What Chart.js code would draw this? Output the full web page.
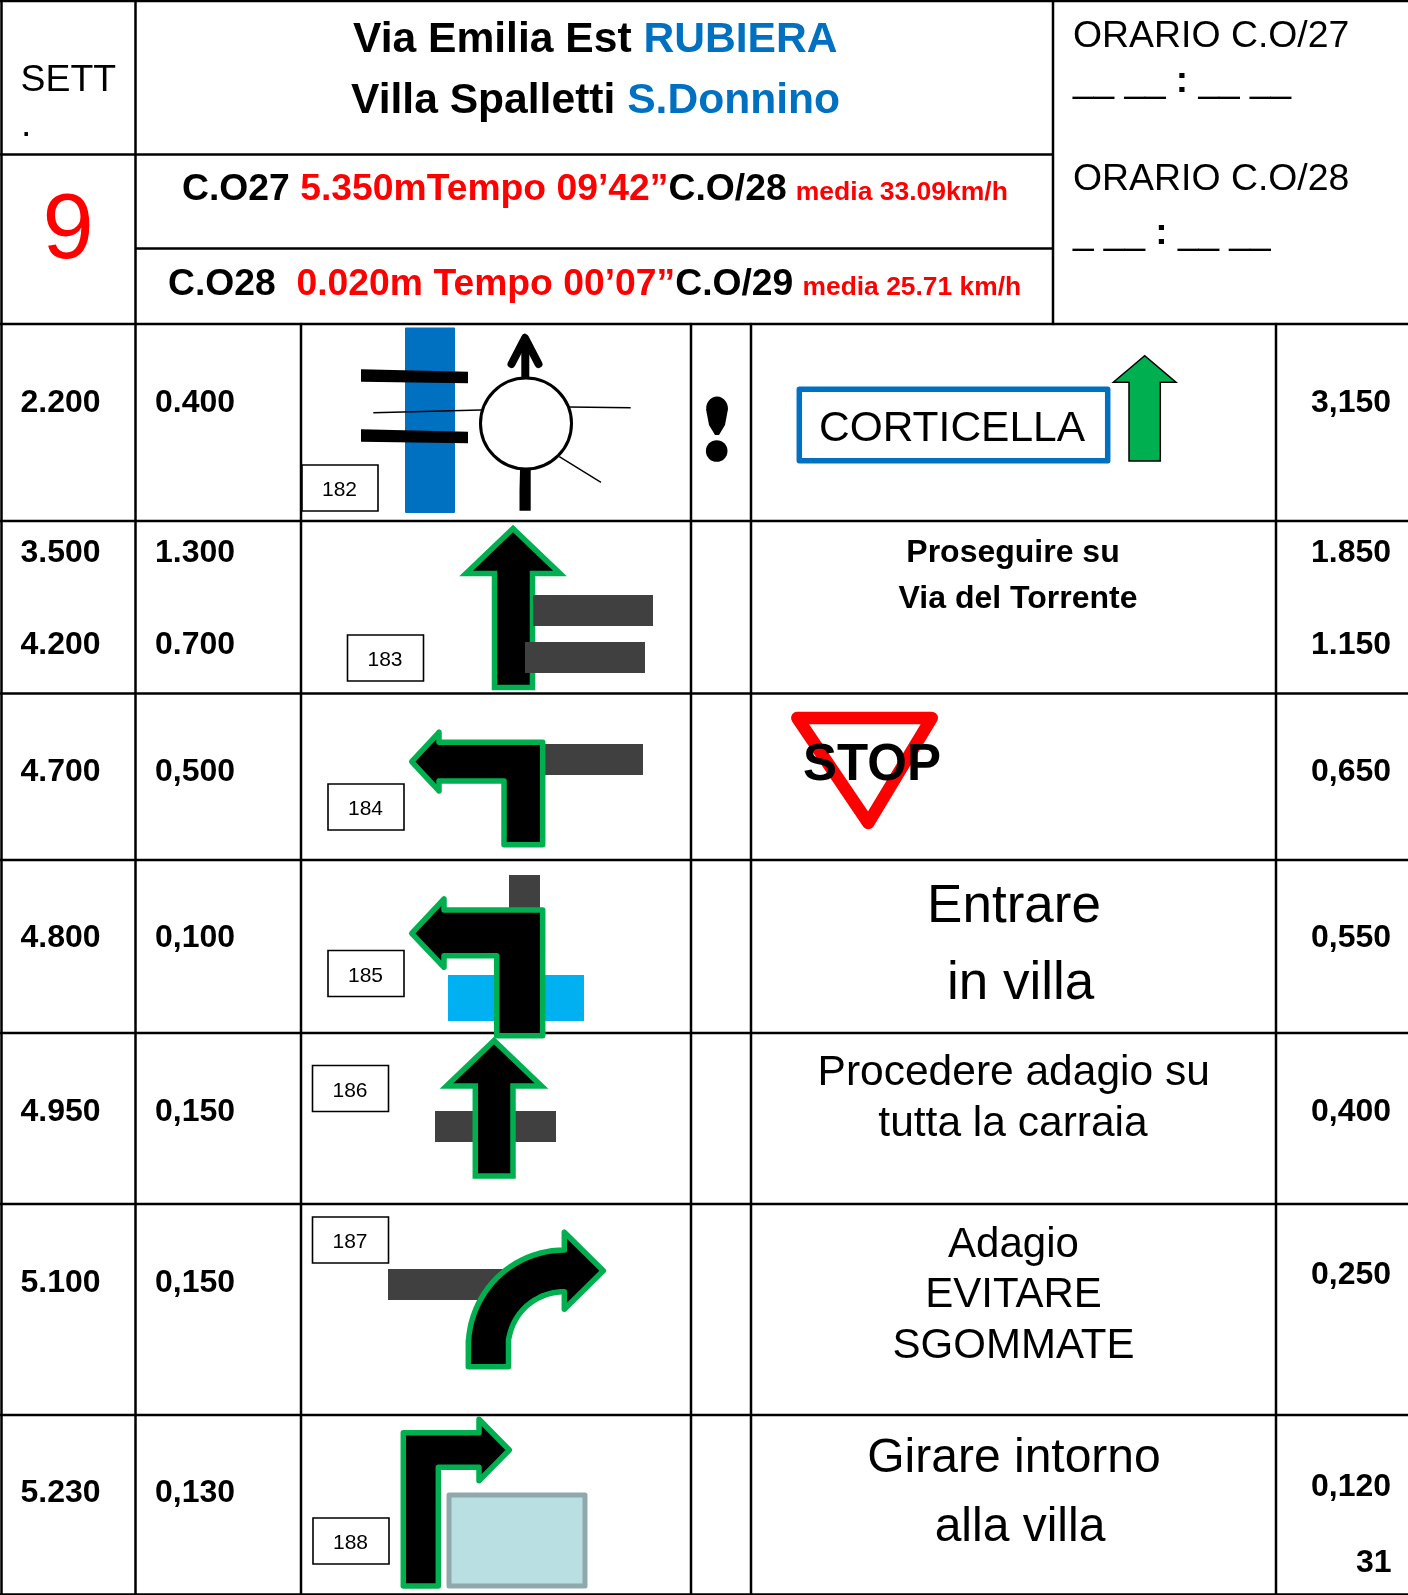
<!DOCTYPE html>
<html>
<head>
<meta charset="utf-8">
<title>Road book settore 9</title>
<script src="https://cdn.jsdelivr.net/npm/chart.js@4"></script>
<style>
  html, body { margin: 0; padding: 0; background: #fff; }
  canvas { display: block; }
</style>
</head>
<body>
<canvas id="roadbook" width="1408" height="1595"></canvas>
<script>
const progressiveKm = ['2.200', '3.500', '4.200', '4.700', '4.800', '4.950', '5.100', '5.230'];
const partialKm = ['0.400', '1.300', '0.700', '0,500', '0,100', '0,150', '0,150', '0,130'];
const remainingKm = ['3,150', '1.850', '1.150', '0,650', '0,550', '0,400', '0,250', '0,120'];
const noteNumbers = ['182', '183', '184', '185', '186', '187', '188'];
const sector = '9';
const pageNumber = '31';

// layout: linee di base delle righe, scala in pixel della pagina
const rowBaselines = [412, 562, 653.5, 780.8, 947.4, 1121.4, 1292.3, 1502];
const remainingBaselines = [412, 562, 653.5, 780.8, 947.4, 1121.4, 1284, 1495.7];
const noteBoxes = [[302, 465], [347.5, 635], [328, 784], [328, 950.5], [312.5, 1065.5], [312.5, 1217], [313, 1518]];

const FONT = '"Liberation Sans", Arial, sans-serif';
const BLACK = '#000000', RED = '#ff0000', BLUE = '#0070c0', GREEN = '#00b050', GREY = '#404040';
const ARROW_BORDER = 5.5;

const datasets = [];

function toPoints(pts) {
    return pts.map(p => ({ x: p[0], y: p[1] }));
}

// segmento o spezzata aperta
function addLine(pts, color, width, cap) {
    datasets.push({
        data: toPoints(pts), showLine: true, fill: false, pointRadius: 0,
        borderColor: color, borderWidth: width, borderCapStyle: cap || 'butt', borderJoinStyle: 'round', tension: 0
    });
}

// poligono chiuso: parte da metà lato così la giunzione resta pulita
function addShape(pts, fillColor, color, width, join) {
    const a = pts[0], b = pts[pts.length - 1];
    const mid = [(a[0] + b[0]) / 2, (a[1] + b[1]) / 2];
    datasets.push({
        data: toPoints([mid, ...pts, mid]), showLine: true, fill: 'shape', backgroundColor: fillColor, pointRadius: 0,
        borderColor: color || fillColor, borderWidth: width || 0, borderJoinStyle: join || 'miter', tension: 0
    });
}

function addRect(x0, y0, x1, y1, fillColor, color, width, join) {
    addShape([[x0, y0], [x1, y0], [x1, y1], [x0, y1]], fillColor, color, width, join);
}

function addCircle(x, y, r, fillColor, color, width) {
    datasets.push({
        data: [{ x: x, y: y }], showLine: false, pointStyle: 'circle', pointRadius: r,
        pointBackgroundColor: fillColor, pointBorderColor: color || fillColor, pointBorderWidth: width || 0
    });
}

// punti di un arco per la freccia curva e la goccia
function arc(cx, cy, rx, ry, from, to, steps) {
    const out = [];
    for (let i = 0; i <= steps; i++) {
        const a = (from + (to - from) * i / steps) * Math.PI / 180;
        out.push([cx + rx * Math.cos(a), cy + ry * Math.sin(a)]);
    }
    return out;
}

// griglia
const hLines = [[0, 1408, 1], [0, 1053, 154.5], [135.5, 1053, 248.5], [0, 1408, 324], [0, 1408, 521], [0, 1408, 693.5],
    [0, 1408, 860], [0, 1408, 1033], [0, 1408, 1204], [0, 1408, 1415], [0, 1408, 1594.5]];
const vLines = [[1.5, 0, 1595], [135.5, 0, 1595], [301, 324, 1595], [691, 324, 1595], [751, 324, 1595], [1276, 324, 1595], [1053, 0, 324]];
hLines.forEach(l => addLine([[l[0], l[2]], [l[1], l[2]]], BLACK, 2.5));
vLines.forEach(l => addLine([[l[0], l[1]], [l[0], l[2]]], BLACK, 2.5));

// riga 182: rotonda e ponte
addRect(406, 328.5, 454, 512, BLUE, BLUE, 2, 'round');
addShape([[361, 369.3], [468, 371.7], [468, 383.3], [361, 381.7]], BLACK);
addShape([[361, 429.3], [468, 431.7], [468, 443.3], [361, 441.7]], BLACK);
addLine([[373.3, 412.7], [481, 410]], BLACK, 1.5);
addLine([[569, 407], [630.7, 407.7]], BLACK, 1.4);
addLine([[559.3, 456.7], [601, 482.3]], BLACK, 1.4);
addShape([[520, 470], [530.7, 470], [530.7, 510.7], [519, 510.7]], BLACK);
addLine([[525.3, 378], [525.3, 345]], BLACK, 8);
addShape([[525, 333], [535, 353], [515, 353]], BLACK);
addLine([[511.5, 364], [525, 338], [538.5, 364]], BLACK, 8, 'round');
addCircle(526, 423.5, 45.5, '#ffffff', BLACK, 3);
addShape(arc(717, 409, 11, 12.5, 180, 360, 14).concat([[725, 425], [719, 435], [715, 435], [709, 425]]), BLACK);
addCircle(716.7, 451, 10.8, BLACK);

// riga 183
addShape([[513, 528.5], [560, 573.5], [532.5, 573.5], [532.5, 687.5], [494.5, 687.5], [494.5, 573.5], [466, 573.5]], BLACK, GREEN, ARROW_BORDER);
addRect(533, 595, 653, 626, GREY);
addRect(525, 642, 645, 673, GREY);

// riga 184
addRect(540, 744, 643, 775, GREY);
addShape([[411.7, 761.7], [439, 732.3], [439, 742.3], [542.7, 742.3], [542.7, 844.7], [504, 844.7], [504, 781], [439, 781], [439, 791]], BLACK, GREEN, ARROW_BORDER, 'round');

// riga 185
addRect(509, 875, 540, 912, GREY);
addRect(448, 975, 584, 1021, '#00b0f0');
addShape([[411.7, 933.3], [444, 899], [444, 910], [542.7, 910], [542.7, 1035.7], [496.7, 1035.7], [496.7, 955.7], [444, 955.7], [444, 967.3]], BLACK, GREEN, ARROW_BORDER, 'round');

// riga 186
addRect(435, 1111, 556, 1142, GREY);
addShape([[494, 1040.5], [541.5, 1086], [513, 1086], [513, 1176], [475.3, 1176], [475.3, 1086], [446.5, 1086]], BLACK, GREEN, ARROW_BORDER);

// riga 187
addRect(388, 1269, 520, 1300, GREY);
addShape([
    [603.3, 1270.7], [564.3, 1232.3], [564.3, 1250],
    ...arc(564.3, 1346.7, 96, 96.7, 270, 180, 24),
    [468.3, 1366.7], [508.3, 1366.7],
    ...arc(564.3, 1346.7, 56, 55, 180, 270, 24),
    [564.3, 1309.3]
], BLACK, GREEN, ARROW_BORDER, 'round');

// riga 188
addShape([[509.3, 1450], [479, 1419.3], [479, 1432.7], [403.3, 1432.7], [403.3, 1586], [438.3, 1586], [438.3, 1467.3], [479, 1467.3], [479, 1480.7]], BLACK, GREEN, ARROW_BORDER, 'round');
addRect(449, 1495, 585, 1586, '#b9dfe2', '#8fa8ac', 5, 'round');

// cartello CORTICELLA e segnale
addRect(799.3, 389.3, 1107.7, 460.7, '#ffffff', BLUE, 5.5, 'round');
addShape([[1144.7, 355.7], [1176, 382.3], [1160.3, 382.3], [1160.3, 461], [1129, 461], [1129, 382.3], [1113.3, 382.3]], GREEN, BLACK, 1.5);
addShape([[797.3, 718], [931.7, 718], [868.3, 823]], 'rgba(0,0,0,0)', RED, 12.5, 'round');

// riquadri con il numero nota
noteBoxes.forEach(b => addRect(b[0], b[1], b[0] + 76, b[1] + 46, '#ffffff', BLACK, 1.6));

// il primo dataset deve stare sotto a tutti
datasets.forEach((d, i) => { d.order = datasets.length - i; d.clip = false; });

function font(size, bold) {
    return (bold ? 'bold ' : '') + size + 'px ' + FONT;
}

// testo su più tratti [testo, dimensione, grassetto, colore]
function drawRuns(chart, x, y, runs) {
    const ctx = chart.ctx;
    let px = chart.scales.x.getPixelForValue(x);
    const py = chart.scales.y.getPixelForValue(y);
    ctx.textAlign = 'left';
    ctx.textBaseline = 'alphabetic';
    runs.forEach(r => {
        ctx.font = font(r[1], r[2]);
        ctx.fillStyle = r[3] || BLACK;
        ctx.fillText(r[0], px, py);
        px += ctx.measureText(r[0]).width;
    });
}

function drawCentered(chart, x, y, text, size, bold, color) {
    const ctx = chart.ctx;
    ctx.font = font(size, bold);
    ctx.fillStyle = color || BLACK;
    ctx.textAlign = 'center';
    ctx.textBaseline = 'alphabetic';
    ctx.fillText(text, chart.scales.x.getPixelForValue(x), chart.scales.y.getPixelForValue(y));
}

const tableText = {
    id: 'tableText',
    afterDatasetsDraw(chart) {
        // intestazione
        drawRuns(chart, 20.5, 90.7, [['SETT', 37.4]]);
        drawRuns(chart, 21, 136, [['.', 37.4]]);
        drawCentered(chart, 68, 258, sector, 92, false, RED);
        drawRuns(chart, 353, 52, [['Via Emilia Est ', 42.6, true], ['RUBIERA', 42.6, true, BLUE]]);
        drawRuns(chart, 351, 113, [['Villa Spalletti ', 42.6, true], ['S.Donnino', 42.6, true, BLUE]]);
        drawRuns(chart, 182, 200, [['C.O27 ', 37.3, true], ['5.350mTempo 09’42”', 37.3, true, RED], ['C.O/28', 37.3, true], [' ', 33, true], ['media 33.09km/h', 26.5, true, RED]]);
        drawRuns(chart, 168, 295, [['C.O28  ', 37.3, true], ['0.020m Tempo 00’07”', 37.3, true, RED], ['C.O/29', 37.3, true], [' ', 33, true], ['media 25.71 km/h', 26.4, true, RED]]);
        drawRuns(chart, 1073, 46.7, [['ORARIO C.O/27', 37.4]]);
        drawRuns(chart, 1073, 92, [['__ __ ', 37], [':', 37, true], [' __ __', 37]]);
        drawRuns(chart, 1073, 190, [['ORARIO C.O/28', 37.4]]);
        drawRuns(chart, 1073, 244, [['_ __ ', 37], [':', 37, true], [' __ __', 37]]);

        // colonne chilometriche
        progressiveKm.forEach((v, i) => drawRuns(chart, 20.5, rowBaselines[i], [[v, 32, true]]));
        partialKm.forEach((v, i) => drawRuns(chart, 155, rowBaselines[i], [[v, 32, true]]));
        remainingKm.forEach((v, i) => drawRuns(chart, 1311, remainingBaselines[i], [[v, 32, true]]));
        drawRuns(chart, 1356, 1572, [[pageNumber, 32, true]]);

        // numeri nota
        noteNumbers.forEach((n, i) => {
            drawCentered(chart, noteBoxes[i][0] + 37.5, noteBoxes[i][1] + 31, n, 21);
        });

        // indicazioni
        drawCentered(chart, 952, 441, 'CORTICELLA', 42.5);
        drawCentered(chart, 872, 780, 'STOP', 51, true);
        drawCentered(chart, 1013, 562, 'Proseguire su', 32, true);
        drawCentered(chart, 1018, 608, 'Via del Torrente', 32, true);
        drawCentered(chart, 1014, 921.5, 'Entrare', 53);
        drawCentered(chart, 1020.6, 998.5, 'in villa', 53);
        drawCentered(chart, 1013.7, 1084.5, 'Procedere adagio su', 42.5);
        drawCentered(chart, 1013, 1136, 'tutta la carraia', 42.5);
        drawCentered(chart, 1013.5, 1256.5, 'Adagio', 42);
        drawCentered(chart, 1013.5, 1307, 'EVITARE', 42);
        drawCentered(chart, 1013.5, 1358, 'SGOMMATE', 42);
        drawCentered(chart, 1014, 1472, 'Girare intorno', 48);
        drawCentered(chart, 1020, 1541, 'alla villa', 48);
    }
};

new Chart(document.getElementById('roadbook').getContext('2d'), {
    type: 'scatter',
    data: { datasets: datasets },
    options: {
        responsive: false,
        animation: false,
        layout: { padding: 0, autoPadding: false },
        plugins: { legend: { display: false }, tooltip: { enabled: false } },
        scales: {
            x: { type: 'linear', min: 0, max: 1408, display: false },
            y: { type: 'linear', min: 0, max: 1595, reverse: true, display: false }
        }
    },
    plugins: [tableText]
});
</script>
</body>
</html>
